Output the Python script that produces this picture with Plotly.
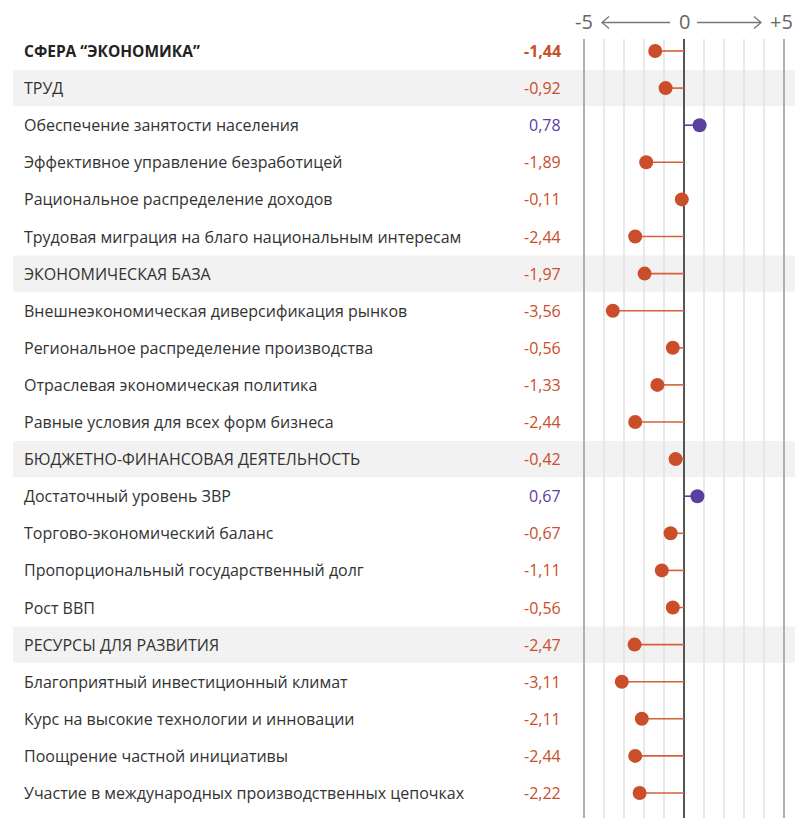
import plotly.graph_objects as go

labels = [
    "СФЕРА “ЭКОНОМИКА”",
    "ТРУД",
    "Обеспечение занятости населения",
    "Эффективное управление безработицей",
    "Рациональное распределение доходов",
    "Трудовая миграция на благо национальным интересам",
    "ЭКОНОМИЧЕСКАЯ БАЗА",
    "Внешнеэкономическая диверсификация рынков",
    "Региональное распределение производства",
    "Отраслевая экономическая политика",
    "Равные условия для всех форм бизнеса",
    "БЮДЖЕТНО-ФИНАНСОВАЯ ДЕЯТЕЛЬНОСТЬ",
    "Достаточный уровень ЗВР",
    "Торгово-экономический баланс",
    "Пропорциональный государственный долг",
    "Рост ВВП",
    "РЕСУРСЫ ДЛЯ РАЗВИТИЯ",
    "Благоприятный инвестиционный климат",
    "Курс на высокие технологии и инновации",
    "Поощрение частной инициативы",
    "Участие в международных производственных цепочках",
]
values = [-1.44, -0.92, 0.78, -1.89, -0.11, -2.44, -1.97, -3.56, -0.56, -1.33, -2.44,
          -0.42, 0.67, -0.67, -1.11, -0.56, -2.47, -3.11, -2.11, -2.44, -2.22]
group_rows = [1, 6, 11, 16]
title_row = 0
axis_ticks = [-5, -4, -3, -2, -1, 0, 1, 2, 3, 4, 5]

W, H = 795, 818
ORANGE = "#c94e29"
ORANGE_LINE = "#d4603c"
PURPLE = "#5a3ea0"
FONT = "Open Sans"

def px(p):
    return p / W

def py(p):
    return 1 - p / H

# axis geometry: 20 px per unit, zero at x=684px; rows every 37.1 px starting at 51px
px_per_unit = 20.0
x0_px = 684.0
x_range = [-x0_px / px_per_unit, (W - x0_px) / px_per_unit]
row_h = 37.1
first_row = 51.0
y_range = [(H - first_row) / row_h, -first_row / row_h]

def col(v):
    return PURPLE if v > 0 else ORANGE

fig = go.Figure()
shapes = []
annotations = []

# gray bands for group rows
for r in group_rows:
    shapes.append(dict(type="rect", xref="paper", yref="y", x0=px(13), x1=1,
                       y0=r - 0.49, y1=r + 0.49, fillcolor="#f2f2f2",
                       line=dict(width=0), layer="below"))

# vertical grid lines
grid_top = (39 - first_row) / row_h
for t in axis_ticks:
    if t == 0:
        c, w = "#555555", 2
    elif abs(t) == 5:
        c, w = "#b0b0b0", 2
    else:
        c, w = "#e2e2e2", 1.5
    shapes.append(dict(type="line", xref="x", yref="y", x0=t, x1=t,
                       y0=grid_top, y1=y_range[0], line=dict(color=c, width=w),
                       layer="below"))

# stems
for sign_pos in (False, True):
    xs, ys = [], []
    for i, v in enumerate(values):
        if (v > 0) == sign_pos:
            xs += [0, v, None]
            ys += [i, i, None]
    fig.add_trace(go.Scatter(x=xs, y=ys, mode="lines",
                             line=dict(color=PURPLE if sign_pos else ORANGE_LINE, width=1.6),
                             hoverinfo="skip", showlegend=False))

# dots
fig.add_trace(go.Scatter(x=values, y=list(range(len(values))), mode="markers",
                         marker=dict(size=14, color=[col(v) for v in values],
                                     line=dict(width=0)),
                         showlegend=False))

# labels and values
for i, (lab, v) in enumerate(zip(labels, values)):
    bold = i == title_row
    annotations.append(dict(xref="paper", yref="y", x=px(22), y=i,
                            text=f"<b>{lab}</b>" if bold else lab,
                            xanchor="left", yanchor="middle", showarrow=False,
                            font=dict(family=FONT, size=15.5 if bold else 16,
                                      color="#222222" if bold else "#333333")))
    vt = f"{v:.2f}".replace(".", ",")
    annotations.append(dict(xref="paper", yref="y", x=px(563), y=i,
                            text=f"<b>{vt}</b>" if bold else vt,
                            xanchor="right", yanchor="middle", showarrow=False,
                            font=dict(family=FONT, size=16, color=col(v))))

# header scale
hy = py(21)
for t, txt in [(-5, "-5"), (0, "0"), (4.85, "+5")]:
    annotations.append(dict(xref="x", yref="paper", x=t, y=hy, text=txt,
                            xanchor="center", yanchor="middle", showarrow=False,
                            font=dict(family=FONT, size=20, color="#666666")))
ay = py(22.5)
dx = 7 / px_per_unit
dy = 6 / H
gray = "#777777"
# left arrow
shapes.append(dict(type="line", xref="x", yref="paper", x0=-4.1, x1=-0.7, y0=ay, y1=ay,
                   line=dict(color=gray, width=1.3)))
shapes.append(dict(type="path", xref="x", yref="paper",
                   path=f"M {-4.1 + dx},{ay + dy} L -4.1,{ay} L {-4.1 + dx},{ay - dy}",
                   line=dict(color=gray, width=1.3)))
# right arrow
shapes.append(dict(type="line", xref="x", yref="paper", x0=0.65, x1=3.85, y0=ay, y1=ay,
                   line=dict(color=gray, width=1.3)))
shapes.append(dict(type="path", xref="x", yref="paper",
                   path=f"M {3.85 - dx},{ay + dy} L 3.85,{ay} L {3.85 - dx},{ay - dy}",
                   line=dict(color=gray, width=1.3)))

fig.update_layout(
    width=W, height=H, margin=dict(l=0, r=0, t=0, b=0),
    plot_bgcolor="white", paper_bgcolor="white",
    xaxis=dict(range=x_range, visible=False, fixedrange=True),
    yaxis=dict(range=y_range, visible=False, fixedrange=True),
    shapes=shapes, annotations=annotations,
    font=dict(family=FONT),
)
fig.write_html("out.html", config={"displayModeBar": False},
               post_script="document.body.style.margin='0';document.body.style.overflow='hidden';")
